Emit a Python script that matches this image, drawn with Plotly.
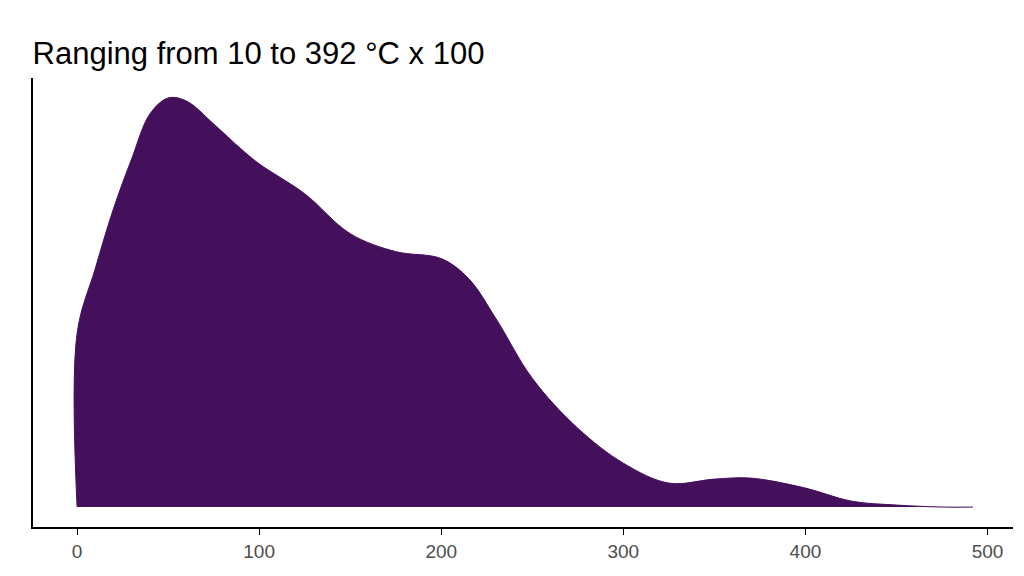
import plotly.graph_objects as go

# density (relative height)
xs = [0, 10, 20, 30, 40, 50, 60, 75, 90, 100, 125, 150, 175, 200, 215, 230, 250, 275, 300,
      325, 350, 370, 400, 425, 450, 475, 492]
dens = [174, 239, 299, 349, 394, 410, 407, 384, 359, 344, 314, 274, 256, 249, 229, 189,
        129, 79, 44, 24, 28, 29, 19, 6, 2, 0, 0]

fig = go.Figure()
fig.add_trace(go.Scatter(x=[0] + xs, y=[0] + dens, mode="lines", fill="toself",
                         fillcolor="#440F5B", line=dict(color="#440F5B", width=1, shape="spline"),
                         hoverinfo="skip"))
fig.update_layout(
    width=1024, height=576, plot_bgcolor="white", paper_bgcolor="white",
    margin=dict(l=25, r=19, t=70, b=57), showlegend=False,
    title=dict(text="Ranging from 10 to 392 °C x 100", x=0.024, xanchor="left", y=0.94,
               font=dict(family="Liberation Sans, Arial", size=31, color="black")),
    xaxis=dict(range=[-24.2, 514], tickvals=[0, 100, 200, 300, 400, 500], showgrid=False,
               zeroline=False, showline=True, linecolor="black", linewidth=2,
               ticks="outside", ticklen=6, tickcolor="black",
               tickfont=dict(family="Liberation Sans, Arial", size=19, color="#4d4d4d")),
    yaxis=dict(range=[-20, 430], showticklabels=False, showgrid=False, zeroline=False,
               showline=True, linecolor="black", linewidth=2),
)
fig.write_html("out.html")
